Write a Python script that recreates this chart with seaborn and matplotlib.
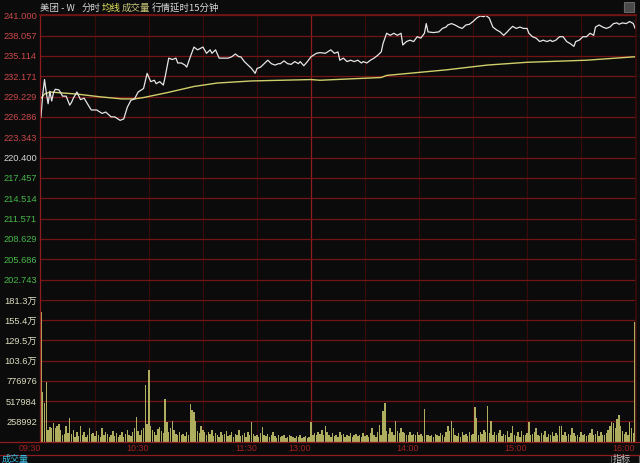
import matplotlib
matplotlib.use("Agg")
import matplotlib.pyplot as plt
import seaborn as sns
import pandas as pd
from matplotlib.lines import Line2D
from matplotlib.patches import FancyBboxPatch, Rectangle

# minutes since 09:30 with the lunch break removed (0 = 09:30, 150 = 13:00, 330 = 16:00)
price_min = [0, 1, 2, 3, 4, 5, 6, 7, 8, 10, 11, 12, 14, 16, 17, 18, 20, 22, 24, 27,
             28, 31, 34, 36, 39, 41, 44, 46, 48, 50, 52, 54, 57, 59, 61, 63, 64, 66, 68, 69,
             71, 73, 75, 76, 78, 80, 81, 83, 85, 87, 90, 92, 94, 95, 97, 99, 101, 104, 106, 108,
             110, 111, 113, 115, 117, 119, 120, 122, 124, 126, 128, 130, 132, 133, 135, 137, 139, 141, 143, 144,
             146, 148, 150, 153, 155, 158, 161, 163, 165, 166, 168, 170, 172, 174, 176, 178, 179, 181, 183, 185,
             187, 189, 190, 192, 194, 196, 198, 200, 201, 203, 205, 207, 209, 211, 213, 214, 215, 218, 221, 223,
             225, 226, 228, 230, 232, 234, 236, 238, 240, 242, 244, 246, 247, 249, 251, 253, 255, 257, 259, 260,
             262, 264, 266, 268, 270, 271, 273, 275, 277, 279, 281, 283, 284, 286, 288, 290, 292, 294, 296, 297,
             299, 301, 303, 305, 307, 308, 310, 312, 314, 316, 318, 320, 321, 323, 325, 327, 329, 330]
price = [226.2, 229.5, 231.7, 229.8, 228.2, 230.0, 228.6, 229.8, 230.3, 230.2, 229.8, 229.3, 229.3, 228.0, 228.4, 229.0, 229.9, 228.8, 229.0, 227.7,
         227.3, 227.3, 226.8, 227.0, 226.3, 226.3, 225.8, 226.0, 227.7, 228.7, 228.9, 229.9, 230.4, 232.6, 231.4, 231.6, 231.1, 231.4, 230.9, 232.1,
         234.8, 234.6, 234.8, 234.1, 234.1, 233.8, 233.5, 235.0, 236.4, 236.0, 236.4, 235.5, 236.0, 235.5, 236.0, 234.8, 234.8, 234.8, 235.0, 235.4,
         235.0, 235.0, 234.3, 233.8, 233.3, 232.6, 233.3, 233.5, 234.0, 234.5, 234.0, 233.8, 234.0, 234.0, 234.4, 234.0, 233.9, 234.3, 234.0, 234.3,
         233.7, 234.3, 235.0, 235.5, 235.6, 235.5, 236.0, 235.5, 235.7, 234.5, 234.8, 234.3, 234.5, 234.3, 234.5, 234.1, 234.3, 234.1, 234.5, 234.8,
         235.2, 235.7, 236.9, 238.4, 238.1, 238.4, 238.1, 238.4, 236.7, 237.2, 237.4, 237.2, 237.9, 237.7, 238.4, 239.8, 238.6, 238.5, 238.6, 239.1,
         239.3, 239.6, 239.8, 239.6, 239.3, 239.1, 239.6, 239.7, 240.1, 240.6, 240.9, 240.8, 241.0, 240.6, 239.3, 238.9, 238.6, 238.1, 238.6, 238.9,
         239.4, 239.1, 239.3, 239.1, 239.1, 238.4, 237.9, 237.7, 237.2, 237.4, 237.2, 237.4, 237.2, 237.4, 237.9, 237.9, 237.2, 236.9, 236.5, 237.2,
         237.4, 237.9, 237.9, 238.4, 238.1, 239.3, 239.6, 239.3, 239.1, 239.3, 239.8, 239.9, 239.7, 239.9, 239.8, 240.1, 239.8, 239.1]

avg_min = [0, 2, 5, 10, 20, 33, 45, 52, 57, 70, 85, 98, 117, 150, 155, 189, 192, 225, 248, 270, 303, 330]
avg_price = [229.0, 229.6, 229.9, 229.8, 229.6, 229.2, 228.9, 228.9, 229.1, 229.8, 230.7, 231.2, 231.5, 231.7, 231.6,
             232.0, 232.3, 233.1, 233.8, 234.2, 234.5, 235.0]

# volume per minute, thousand shares
volume_k = [
    1660, 640, 495, 770, 150, 190, 170, 245, 180, 205, 225, 150, 85, 100, 205, 110, 300, 100, 150, 60, 120, 70, 200, 90, 130, 60, 80, 170, 95, 110,
    70, 140, 90, 60, 180, 80, 120, 100, 60, 90, 140, 70, 110, 55, 80, 130, 60, 100, 150, 90, 70, 120, 180, 320, 140, 90, 150, 180, 720, 230,
    915, 200, 150, 120, 90, 160, 190, 140, 110, 550, 250, 130, 180, 260, 150, 100, 90, 120, 80, 100, 70, 130, 90, 480, 400, 380, 260, 140, 110, 200,
    150, 120, 80, 130, 100, 150, 70, 110, 90, 60, 130, 80, 100, 140, 70, 90, 120, 60, 100, 80, 150, 70, 90, 110, 60, 130, 80, 247, 100, 70,
    90, 60, 110, 190, 80, 70, 100, 60, 90, 120, 70, 50, 80, 60, 70, 90, 50, 60, 80, 70, 60, 50, 70, 60, 80, 50, 60, 70, 50, 60,
    250, 90, 110, 80, 130, 100, 150, 90, 205, 130, 80, 60, 110, 70, 90, 60, 120, 80, 100, 60, 90, 70, 110, 60, 80, 100, 70, 90, 60, 110,
    70, 90, 60, 110, 180, 80, 60, 120, 220, 90, 396, 490, 140, 100, 170, 120, 90, 260, 140, 110, 180, 130, 110, 80, 90, 120, 80, 100, 90, 120,
    80, 100, 70, 417, 90, 80, 70, 90, 60, 100, 80, 70, 110, 90, 60, 120, 200, 140, 260, 170, 90, 70, 110, 60, 130, 80, 100, 70, 120, 90,
    100, 447, 300, 80, 130, 100, 150, 120, 456, 110, 260, 90, 130, 80, 110, 150, 70, 100, 90, 140, 60, 110, 200, 90, 70, 120, 60, 140, 90, 80,
    110, 250, 80, 100, 130, 170, 90, 70, 110, 80, 140, 60, 100, 90, 120, 70, 110, 80, 200, 200, 90, 120, 70, 100, 80, 180, 110, 70, 90, 60,
    120, 80, 100, 70, 90, 110, 160, 80, 100, 140, 70, 120, 90, 80, 110, 150, 200, 250, 240, 180, 290, 340, 200, 140, 100, 120, 90, 250, 180, 110,
    1530,
]

price_labels = ["241.000", "238.057", "235.114", "232.171", "229.229", "226.286", "223.343",
                "220.400", "217.457", "214.514", "211.571", "208.629", "205.686", "202.743"]
prev_close = 220.400
volume_labels = ["181.3万", "155.4万", "129.5万", "103.6万", "776976", "517984", "258992"]
volume_ticks = [1812944, 1553952, 1294960, 1035968, 776976, 517984, 258992]
time_labels = ["09:30", "10:30", "11:30", "13:00", "14:00", "15:00", "16:00"]
time_ticks = [0, 60, 120, 150, 210, 270, 330]
grid_minutes = [30, 60, 90, 120, 150, 180, 210, 240, 270, 300]

BG = "#0b0b0c"
HGRID = "#731414"
VGRID = "#3a0b0b"
AXIS_RED = "#8e1c1c"
NUM_FONT = ["Liberation Sans", "Noto Sans CJK SC", "DejaVu Sans"]
CJK_FONT = ["Noto Sans CJK SC", "DejaVu Sans"]

sns.set_theme(style="dark", rc={"axes.facecolor": BG, "figure.facecolor": BG})
plt.rcParams["font.family"] = NUM_FONT


def fx(px):
    return px / 640


def fy(py):
    return 1 - py / 463


fig = plt.figure(figsize=(6.4, 4.63), dpi=100, facecolor=BG)
ax_p = fig.add_axes([fx(40), fy(300), 596 / 640, (300 - 15.3) / 463])
ax_v = fig.add_axes([fx(40), fy(441.7), 596 / 640, (441.7 - 300) / 463])

# price panel
sns.lineplot(x=avg_min, y=avg_price, ax=ax_p, color="#cfcf6a", linewidth=1.0)
sns.lineplot(x=price_min, y=price, ax=ax_p, color="#e6e6e6", linewidth=0.9)
ticks_p = [float(s) for s in price_labels]
ax_p.set_ylim(2 * prev_close - ticks_p[0], ticks_p[0])
ax_p.set_yticks(ticks_p)
ax_p.set_yticklabels(price_labels)
for lab, v in zip(ax_p.get_yticklabels(), ticks_p):
    if v > prev_close + 0.001:
        lab.set_color("#c94848")
    elif v < prev_close - 0.001:
        lab.set_color("#45b545")
    else:
        lab.set_color("#d6d6d6")
ax_p.set_xticks([])

# volume panel
vol_df = pd.DataFrame({"minute": range(len(volume_k)), "volume": [v * 1000 for v in volume_k]})
sns.barplot(data=vol_df, x="minute", y="volume", native_scale=True, ax=ax_v,
            color="#aeae5e", saturation=1, width=0.8, linewidth=0)
ax_v.set_ylim(0, volume_ticks[0])
ax_v.set_yticks(volume_ticks)
ax_v.set_yticklabels(volume_labels, color="#dcdcc0")
ax_v.set_xticks(time_ticks)
ax_v.set_xticklabels(time_labels, color="#a32020", fontsize=6.4)
for lab in ax_v.get_xticklabels():
    lab.set_ha("right")

for ax in (ax_p, ax_v):
    ax.set_xlim(-0.5, 330.5)
    ax.set_xlabel("")
    ax.set_ylabel("")
    ax.yaxis.grid(True, color=HGRID, linewidth=0.9)
    ax.xaxis.grid(False)
    for m in grid_minutes:
        ax.axvline(m, color=AXIS_RED if m == 150 else VGRID, linewidth=0.9, zorder=0.5)
    ax.tick_params(axis="y", length=0, pad=2.2, labelsize=6.7)
    ax.tick_params(axis="x", length=0)
    for side in ("top", "bottom", "right"):
        ax.spines[side].set_visible(False)
    ax.spines["left"].set_color(AXIS_RED)
    ax.spines["left"].set_linewidth(0.9)
    ax.spines["right"].set_visible(True)
    ax.spines["right"].set_color(VGRID)
ax_p.spines["top"].set_visible(True)
ax_p.spines["top"].set_color(HGRID)
ax_v.tick_params(axis="x", pad=1.8)

# horizontal rules below the volume panel
for py in (442, 455):
    fig.add_artist(Line2D([0, 1], [fy(py), fy(py)], color=AXIS_RED, linewidth=0.9))

# header
head = [("美团 - W", 40, "#d8d8d8"), ("分时", 82, "#d8d8d8"), ("均线", 102, "#e6e65c"),
        ("成交量", 122, "#c6c676"), ("行情延时15分钟", 152, "#d8d8d8")]
for txt, px, col in head:
    fig.text(fx(px), fy(8), txt, color=col, fontsize=6.8, va="center", ha="left", family=CJK_FONT)
fig.add_artist(FancyBboxPatch((fx(625), fy(12)), 9 / 640, 9 / 463, boxstyle="round,pad=0.001",
                              facecolor="#4a4a4a", edgecolor="#777777", linewidth=0.6))

# footer tabs
fig.text(fx(2), fy(459.5), "成交量", color="#3cbde0", fontsize=6.5, va="center", ha="left", family=CJK_FONT)
fig.add_artist(Rectangle((fx(611), 0), 28 / 640, 8 / 463, facecolor="none", edgecolor="#5a5a5a", linewidth=0.8))
fig.text(fx(631), fy(459.5), "指标", color="#c8c8c8", fontsize=6.5, va="center", ha="right", family=CJK_FONT)

fig.savefig("out.png", dpi=100, facecolor=BG)
